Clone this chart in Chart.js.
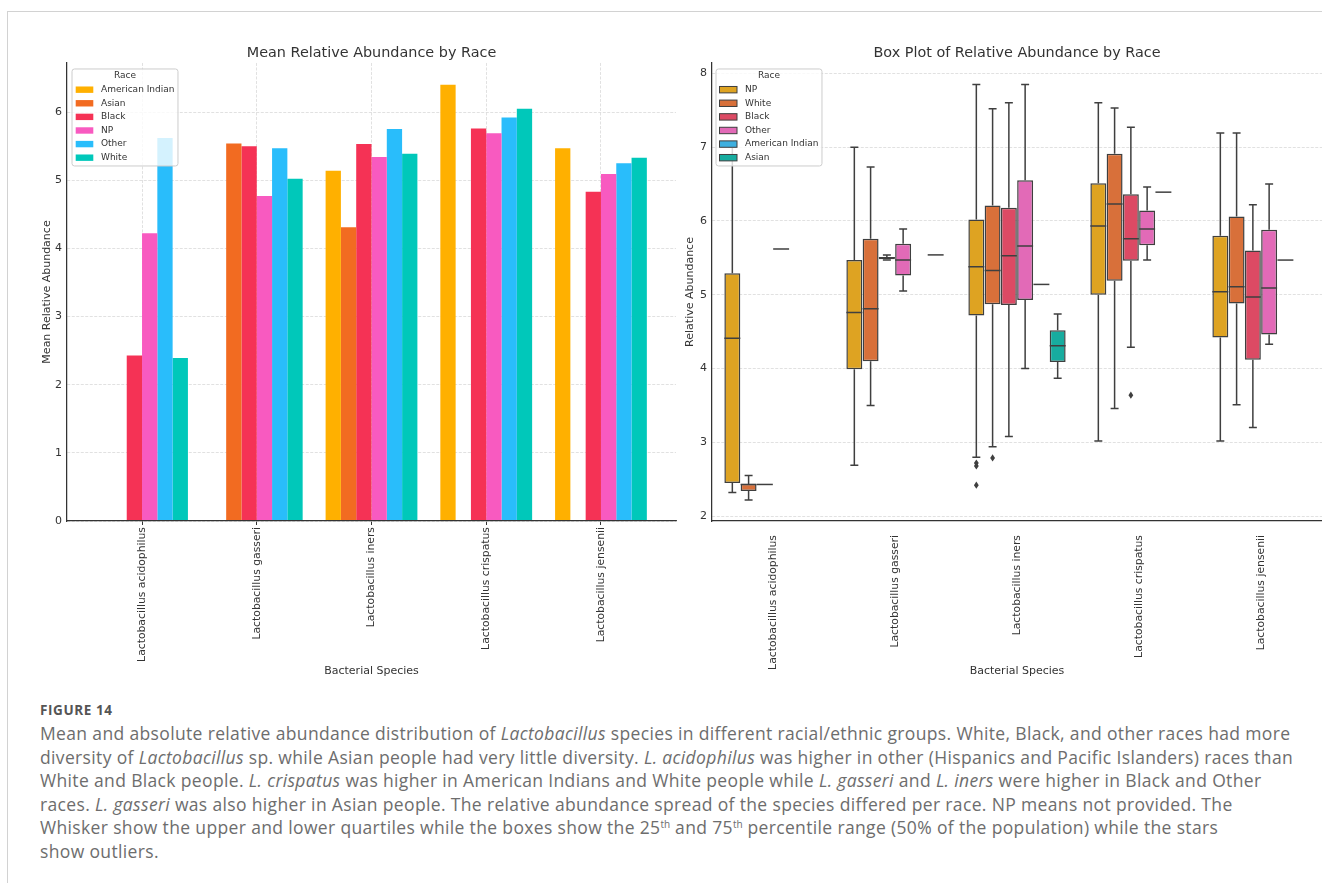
<!DOCTYPE html>
<html>
<head>
<meta charset="utf-8">
<title>Lactobacillus relative abundance by race</title>
<script src="https://cdn.jsdelivr.net/npm/chart.js@4.4.1/dist/chart.umd.min.js"></script>
<style>
  html, body { margin: 0; padding: 0; width: 1322px; height: 883px; overflow: hidden; background: #ffffff; }
  #frame { position: absolute; left: 7px; top: 11px; width: 1400px; height: 900px;
           border-top: 1px solid #d2d2d2; border-left: 1px solid #d2d2d2; }
  #meanChart { position: absolute; left: 0; top: 30px; }
  #boxChart { position: absolute; left: 680px; top: 30px; }
  #caption { position: absolute; left: 40px; top: 698px; font-family: "Open Sans", Lato, sans-serif; color: #6d6d6d; }
  #caption .fig-label { font-size: 13.5px; font-weight: 700; color: #555555; height: 24px; line-height: 24px; letter-spacing: 0.6px; }
  #caption .line { font-size: 17.5px; line-height: 23.6px; height: 23.6px; white-space: nowrap; letter-spacing: 0.35px; }
  #caption sup { font-size: 10px; line-height: 0; vertical-align: 6px; letter-spacing: 0; }
</style>
</head>
<body>
<div id="frame"></div>
<canvas id="meanChart" width="680" height="660"></canvas>
<canvas id="boxChart" width="642" height="660"></canvas>
<div id="caption">
  <div class="fig-label">FIGURE 14</div>
  <div class="line">Mean and absolute relative abundance distribution of <i>Lactobacillus</i> species in different racial/ethnic groups. White, Black, and other races had more</div>
  <div class="line">diversity of <i>Lactobacillus</i> sp. while Asian people had very little diversity. <i>L. acidophilus</i> was higher in other (Hispanics and Pacific Islanders) races than</div>
  <div class="line">White and Black people. <i>L. crispatus</i> was higher in American Indians and White people while <i>L. gasseri</i> and <i>L. iners</i> were higher in Black and Other</div>
  <div class="line">races. <i>L. gasseri</i> was also higher in Asian people. The relative abundance spread of the species differed per race. NP means not provided. The</div>
  <div class="line">Whisker show the upper and lower quartiles while the boxes show the 25<sup>th</sup> and 75<sup>th</sup> percentile range (50% of the population) while the stars</div>
  <div class="line">show outliers.</div>
</div>

<script>
// ---- categories ----
const speciesLabels = [
  'Lactobacillus acidophilus',
  'Lactobacillus gasseri',
  'Lactobacillus iners',
  'Lactobacillus crispatus',
  'Lactobacillus jensenii'
];

// ---- mean relative abundance per race (null = no samples) ----
const meanAmericanIndian = [null, null, 5.14, 6.40, 5.47];
const meanAsian          = [null, 5.54, 4.31, null, null];
const meanBlack          = [2.43, 5.50, 5.53, 5.76, 4.83];
const meanNP             = [4.22, 4.77, 5.34, 5.69, 5.09];
const meanOther          = [5.62, 5.47, 5.75, 5.92, 5.25];
const meanWhite          = [2.39, 5.02, 5.39, 6.05, 5.33];

// ---- box statistics per race: [lower whisker, Q1, median, Q3, upper whisker] ----
const boxNP = [
  [2.32, 2.45, 4.41, 5.29, 7.00],
  [2.69, 3.99, 4.76, 5.47, 7.00],
  [2.80, 4.72, 5.38, 6.02, 7.85],
  [3.02, 5.00, 5.93, 6.51, 7.60],
  [3.02, 4.42, 5.04, 5.80, 7.19]
];
const boxWhite = [
  [2.22, 2.34, 2.43, 2.44, 2.55],
  [3.50, 4.10, 4.81, 5.76, 6.73],
  [2.94, 4.87, 5.33, 6.21, 7.52],
  [3.46, 5.19, 6.23, 6.91, 7.53],
  [3.51, 4.88, 5.11, 6.06, 7.19]
];
const boxBlack = [
  [2.43, 2.43, 2.43, 2.43, 2.43],
  [5.47, 5.48, 5.50, 5.51, 5.54],
  [3.08, 4.86, 5.53, 6.18, 7.60],
  [4.29, 5.46, 5.76, 6.36, 7.27],
  [3.20, 4.12, 4.97, 5.60, 6.22]
];
const boxOther = [
  [5.62, 5.62, 5.62, 5.62, 5.62],
  [5.05, 5.26, 5.47, 5.69, 5.89],
  [4.00, 4.93, 5.66, 6.55, 7.85],
  [5.47, 5.67, 5.89, 6.14, 6.46],
  [4.33, 4.46, 5.09, 5.88, 6.50]
];
const boxAmericanIndian = [
  null,
  null,
  [5.14, 5.14, 5.14, 5.14, 5.14],
  [6.39, 6.39, 6.39, 6.39, 6.39],
  [5.47, 5.47, 5.47, 5.47, 5.47]
];
const boxAsian = [
  null,
  [5.54, 5.54, 5.54, 5.54, 5.54],
  [3.87, 4.09, 4.31, 4.52, 4.74],
  null,
  null
];

// ---- outliers per race and species ----
const outliersNP    = [[], [], [2.72, 2.68, 2.42], [], []];
const outliersWhite = [[], [], [2.79], [], []];
const outliersBlack = [[], [], [], [3.64], []];
const outliersOther = [[], [], [], [], []];
const outliersNone  = [[], [], [], [], []];

// ---- shared styling ----
const FONT = '"DejaVu Sans", "Liberation Sans", sans-serif';
const TEXT = '#333333';
const GRID = '#d9d9d9';
const AXIS = '#333333';
const EDGE = '#3f3f3f';

Chart.defaults.font.family = FONT;
Chart.defaults.color = TEXT;

// Legend drawn inside the plot area on top of the marks, with a translucent frame
const insetLegend = {
  id: 'insetLegend',
  afterDraw(chart, args, opts) {
    if (!opts || !opts.display) return;
    const ctx = chart.ctx;
    const area = chart.chartArea;
    const left = area.left + opts.offsetX;
    const top = area.top + opts.offsetY;
    const items = chart.data.datasets.map(d => ({ text: d.label, fill: d.backgroundColor }));
    ctx.save();
    ctx.font = opts.fontSize + 'px ' + FONT;
    const textW = Math.max(...items.map(it => ctx.measureText(it.text).width));
    const w = opts.textX + textW + opts.padRight;
    const h = opts.rowY + (items.length - 1) * opts.rowGap + opts.padBottom;
    const r = 2.5;
    ctx.beginPath();
    ctx.moveTo(left + r, top);
    ctx.lineTo(left + w - r, top);
    ctx.arcTo(left + w, top, left + w, top + r, r);
    ctx.lineTo(left + w, top + h - r);
    ctx.arcTo(left + w, top + h, left + w - r, top + h, r);
    ctx.lineTo(left + r, top + h);
    ctx.arcTo(left, top + h, left, top + h - r, r);
    ctx.lineTo(left, top + r);
    ctx.arcTo(left, top, left + r, top, r);
    ctx.closePath();
    ctx.fillStyle = 'rgba(255,255,255,0.8)';
    ctx.fill();
    ctx.strokeStyle = '#cccccc';
    ctx.lineWidth = 1;
    ctx.stroke();

    ctx.fillStyle = TEXT;
    ctx.textAlign = 'center';
    ctx.textBaseline = 'middle';
    ctx.fillText(opts.title, left + w / 2, top + opts.titleY);

    items.forEach((it, i) => {
      const cy = top + opts.rowY + i * opts.rowGap;
      ctx.fillStyle = it.fill;
      ctx.fillRect(left + opts.patchX, cy - 3.2, opts.patchW, 6.4);
      if (opts.patchEdge) {
        ctx.strokeStyle = opts.patchEdge;
        ctx.lineWidth = 1;
        ctx.strokeRect(left + opts.patchX, cy - 3.2, opts.patchW, 6.4);
      }
      ctx.fillStyle = TEXT;
      ctx.textAlign = 'left';
      ctx.fillText(it.text, left + opts.textX, cy);
    });
    ctx.restore();
  }
};

// Whiskers, caps, medians and outliers drawn over the floating-bar boxes
const boxDecorations = {
  id: 'boxDecorations',
  afterDatasetsDraw(chart) {
    const ctx = chart.ctx;
    const yScale = chart.scales.y;
    ctx.save();
    ctx.strokeStyle = EDGE;
    ctx.fillStyle = EDGE;
    ctx.lineWidth = 1.5;
    chart.data.datasets.forEach((ds, di) => {
      if (!ds.stats) return;
      const meta = chart.getDatasetMeta(di);
      ds.stats.forEach((s, i) => {
        if (!s) return;
        const bar = meta.data[i];
        const { x, width } = bar.getProps(['x', 'width'], true);
        const [lo, q1, med, q3, hi] = s.map(v => yScale.getPixelForValue(v));
        const half = width / 2;
        const cap = width / 4;
        ctx.beginPath();
        // whiskers with caps
        if (lo - q1 > 0.5) { ctx.moveTo(x, q1); ctx.lineTo(x, lo); ctx.moveTo(x - cap, lo); ctx.lineTo(x + cap, lo); }
        if (q3 - hi > 0.5) { ctx.moveTo(x, q3); ctx.lineTo(x, hi); ctx.moveTo(x - cap, hi); ctx.lineTo(x + cap, hi); }
        // median
        ctx.moveTo(x - half, med);
        ctx.lineTo(x + half, med);
        ctx.stroke();
        // outliers as thin diamonds
        (ds.outliers[i] || []).forEach(v => {
          const py = yScale.getPixelForValue(v);
          ctx.beginPath();
          ctx.moveTo(x, py - 3.6);
          ctx.lineTo(x + 2.4, py);
          ctx.lineTo(x, py + 3.6);
          ctx.lineTo(x - 2.4, py);
          ctx.closePath();
          ctx.fill();
        });
      });
    });
    ctx.restore();
  }
};

Chart.register(insetLegend, boxDecorations);

const xTickFont = { family: FONT, size: 10.8 };
const yTickFont = { family: FONT, size: 11 };
const axisTitleFont = { family: FONT, size: 11 };
const chartTitleFont = { family: FONT, size: 14.4, weight: 'normal' };
const chartTitlePadding = { top: 14.4, bottom: 1.3 };

const legendGeometry = {
  display: true, title: 'Race', fontSize: 9,
  offsetX: 5, offsetY: 6, titleY: 7, rowY: 20.7, rowGap: 13.6,
  patchX: 3.7, patchW: 17.6, textX: 29, padRight: 3.5, padBottom: 8.3
};

// ---------------- bar chart of means ----------------
const meanSeries = [
  ['American Indian', meanAmericanIndian, '#FFB000'],
  ['Asian', meanAsian, '#F26B21'],
  ['Black', meanBlack, '#F53255'],
  ['NP', meanNP, '#F85AC0'],
  ['Other', meanOther, '#29BDFB'],
  ['White', meanWhite, '#00C8BA']
];

new Chart(document.getElementById('meanChart'), {
  type: 'bar',
  data: {
    labels: speciesLabels,
    datasets: meanSeries.map(([label, values, color]) => ({
      label, data: values, backgroundColor: color, borderWidth: 0,
      categoryPercentage: 0.8, barPercentage: 1
    }))
  },
  options: {
    responsive: false,
    animation: false,
    devicePixelRatio: 1,
    layout: { padding: { left: 20, right: 4, top: 0, bottom: 0 } },
    plugins: {
      legend: { display: false },
      tooltip: { enabled: false },
      title: {
        display: true, text: 'Mean Relative Abundance by Race', fullSize: false,
        font: chartTitleFont, color: TEXT, padding: chartTitlePadding
      },
      insetLegend: Object.assign({}, legendGeometry),
      boxDecorations: false
    },
    scales: {
      x: {
        type: 'category',
        offset: true,
        // axis spans from -0.654 to 4.654 category units
        afterBuildTicks: (s) => { s._startValue = -0.654; s._valueRange = 5.308; },
        afterFit: (s) => { s.height = 169; },
        grid: { display: true, offset: false, color: GRID, lineWidth: 0.8,
                drawTicks: true, tickLength: 4, tickColor: AXIS, tickWidth: 1, tickBorderDash: [] },
        border: { display: true, color: AXIS, width: 1.25, dash: [3, 1.5], z: 1 },
        ticks: { minRotation: 90, maxRotation: 90, autoSkip: false, padding: 2, font: xTickFont, color: TEXT },
        title: { display: true, text: 'Bacterial Species', font: axisTitleFont, color: TEXT, padding: { top: 0, bottom: 12.4 } }
      },
      y: {
        min: 0, max: 6.72,
        afterFit: (s) => { s.width = 47; },
        grid: { color: GRID, lineWidth: 0.8, drawTicks: false },
        border: { display: true, color: AXIS, width: 1.25, dash: [3, 1.5], z: 1 },
        ticks: { stepSize: 1, includeBounds: false, padding: 5, font: yTickFont, color: TEXT },
        title: { display: true, text: 'Mean Relative Abundance', font: axisTitleFont, color: TEXT, padding: { top: 20.4, bottom: 0 } }
      }
    }
  }
});

// ---------------- box plot ----------------
const boxSeries = [
  ['NP', boxNP, outliersNP, '#DEA322'],
  ['White', boxWhite, outliersWhite, '#D8703A'],
  ['Black', boxBlack, outliersBlack, '#DC4A64'],
  ['Other', boxOther, outliersOther, '#E26AB7'],
  ['American Indian', boxAmericanIndian, outliersNone, '#3EB0E0'],
  ['Asian', boxAsian, outliersNone, '#17AC9F']
];

new Chart(document.getElementById('boxChart'), {
  type: 'bar',
  data: {
    labels: speciesLabels,
    datasets: boxSeries.map(([label, stats, outliers, color]) => ({
      label,
      data: stats.map(s => (s ? [s[1], s[3]] : null)),
      stats, outliers,
      backgroundColor: color,
      borderColor: EDGE,
      borderWidth: 1.5,
      borderSkipped: false,
      categoryPercentage: 0.8, barPercentage: 0.98
    }))
  },
  options: {
    responsive: false,
    animation: false,
    devicePixelRatio: 1,
    layout: { padding: { left: 0, right: 0, top: 0, bottom: 0 } },
    plugins: {
      legend: { display: false },
      tooltip: { enabled: false },
      title: {
        display: true, text: 'Box Plot of Relative Abundance by Race', fullSize: false,
        font: chartTitleFont, color: TEXT, padding: chartTitlePadding
      },
      insetLegend: Object.assign({}, legendGeometry, { offsetX: 4, patchX: 3.5, patchW: 17.5, patchEdge: EDGE })
    },
    scales: {
      x: {
        type: 'category',
        offset: true,
        afterFit: (s) => { s.height = 169; },
        grid: { display: false },
        border: { display: true, color: AXIS, width: 1.25, z: 1 },
        ticks: { minRotation: 90, maxRotation: 90, autoSkip: false, padding: 6, font: xTickFont, color: TEXT },
        title: { display: true, text: 'Bacterial Species', font: axisTitleFont, color: TEXT, padding: { top: 0, bottom: 12.4 } }
      },
      y: {
        min: 1.935, max: 8.14,
        afterFit: (s) => { s.width = 32; },
        grid: { color: GRID, lineWidth: 0.8, drawTicks: false },
        border: { display: true, color: AXIS, width: 1.25, dash: [3, 1.5], z: 1 },
        ticks: { stepSize: 1, includeBounds: false, padding: 5, font: yTickFont, color: TEXT },
        title: { display: true, text: 'Relative Abundance', font: axisTitleFont, color: TEXT, padding: { top: 3.4, bottom: 0 } }
      }
    }
  }
});
</script>
</body>
</html>
